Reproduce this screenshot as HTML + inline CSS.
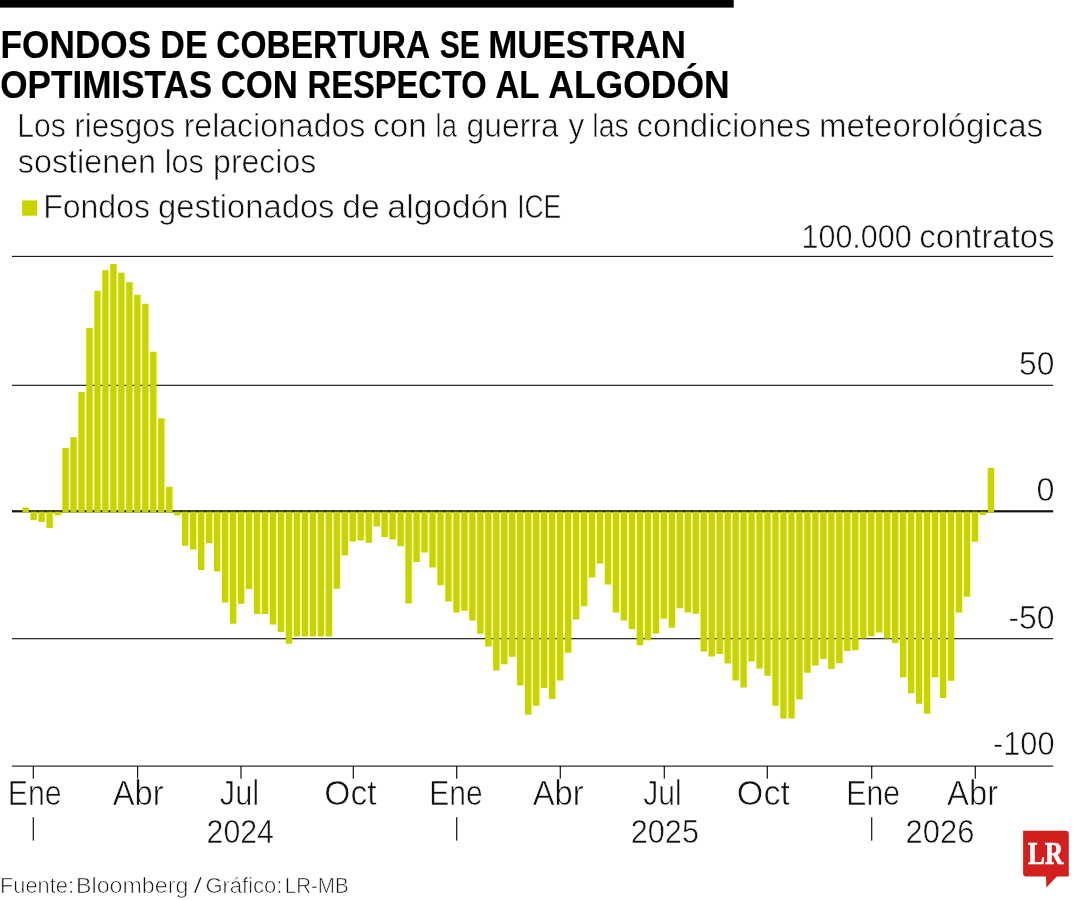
<!DOCTYPE html>
<html lang="es"><head><meta charset="utf-8"><title>Fondos de cobertura se muestran optimistas con respecto al algodón</title>
<style>
html,body{margin:0;padding:0;background:#fff}
svg{display:block}
text{font-family:"Liberation Sans",sans-serif;fill:#111;stroke:#fff;paint-order:fill stroke}
.b{font-weight:bold;fill:#000;stroke:#000;stroke-width:0.2px}
.s{font-family:"Liberation Serif",serif;font-weight:bold;fill:#fff;stroke:#fff;stroke-width:0.7px}
</style></head><body>
<svg width="1080" height="900" viewBox="0 0 1080 900">
<rect width="1080" height="900" fill="#fff"/>
<rect x="0" y="0" width="733.7" height="7.6" fill="#000"/>
<text class="b" y="57.7" font-size="38"><tspan x="0.60" textLength="150.59" lengthAdjust="spacingAndGlyphs">FONDOS</tspan> <tspan x="160.34" textLength="47.26" lengthAdjust="spacingAndGlyphs">DE</tspan> <tspan x="216.25" textLength="212.65" lengthAdjust="spacingAndGlyphs">COBERTURA</tspan> <tspan x="439.66" textLength="40.13" lengthAdjust="spacingAndGlyphs">SE</tspan> <tspan x="488.15" textLength="197.80" lengthAdjust="spacingAndGlyphs">MUESTRAN</tspan></text>
<text class="b" y="97.6" font-size="38"><tspan x="0.23" textLength="212.03" lengthAdjust="spacingAndGlyphs">OPTIMISTAS</tspan> <tspan x="220.69" textLength="77.30" lengthAdjust="spacingAndGlyphs">CON</tspan> <tspan x="307.60" textLength="179.02" lengthAdjust="spacingAndGlyphs">RESPECTO</tspan> <tspan x="495.48" textLength="43.27" lengthAdjust="spacingAndGlyphs">AL</tspan> <tspan x="548.34" textLength="181.30" lengthAdjust="spacingAndGlyphs">ALGODÓN</tspan></text>
<text y="136.7" font-size="34" stroke-width="0.61"><tspan x="17.36" textLength="48.57" lengthAdjust="spacingAndGlyphs">Los</tspan> <tspan x="74.26" textLength="101.05" lengthAdjust="spacingAndGlyphs">riesgos</tspan> <tspan x="183.69" textLength="181.59" lengthAdjust="spacingAndGlyphs">relacionados</tspan> <tspan x="373.01" textLength="53.99" lengthAdjust="spacingAndGlyphs">con</tspan> <tspan x="435.59" textLength="21.29" lengthAdjust="spacingAndGlyphs">la</tspan> <tspan x="466.61" textLength="92.05" lengthAdjust="spacingAndGlyphs">guerra</tspan> <tspan x="568.56" textLength="15.73" lengthAdjust="spacingAndGlyphs">y</tspan> <tspan x="592.34" textLength="36.55" lengthAdjust="spacingAndGlyphs">las</tspan> <tspan x="636.62" textLength="174.31" lengthAdjust="spacingAndGlyphs">condiciones</tspan> <tspan x="819.05" textLength="224.03" lengthAdjust="spacingAndGlyphs">meteorológicas</tspan></text>
<text y="172.6" font-size="34" stroke-width="0.61"><tspan x="17.87" textLength="138.20" lengthAdjust="spacingAndGlyphs">sostienen</tspan> <tspan x="164.78" textLength="39.11" lengthAdjust="spacingAndGlyphs">los</tspan> <tspan x="213.11" textLength="103.09" lengthAdjust="spacingAndGlyphs">precios</tspan></text>
<rect x="22.1" y="200.4" width="15" height="15.3" fill="#c8d400"/>
<text y="218.4" font-size="34" stroke-width="0.61"><tspan x="43.13" textLength="106.93" lengthAdjust="spacingAndGlyphs">Fondos</tspan> <tspan x="158.02" textLength="176.45" lengthAdjust="spacingAndGlyphs">gestionados</tspan> <tspan x="342.34" textLength="37.54" lengthAdjust="spacingAndGlyphs">de</tspan> <tspan x="387.18" textLength="121.41" lengthAdjust="spacingAndGlyphs">algodón</tspan> <tspan x="517.15" textLength="44.14" lengthAdjust="spacingAndGlyphs">ICE</tspan></text>
<text y="247.9" font-size="33.5" stroke-width="0.60"><tspan x="801.50" textLength="110.16" lengthAdjust="spacingAndGlyphs">100.000</tspan> <tspan x="919.21" textLength="135.33" lengthAdjust="spacingAndGlyphs">contratos</tspan></text>
<g fill="#ffffc4">
<rect x="28.55" y="507.50" width="1.93" height="3.80"/><rect x="36.53" y="511.30" width="1.93" height="8.70"/><rect x="44.50" y="511.30" width="1.93" height="10.70"/><rect x="52.48" y="511.30" width="1.93" height="16.70"/><rect x="60.46" y="511.30" width="1.93" height="4.00"/><rect x="68.44" y="448.00" width="1.93" height="63.30"/>
<rect x="76.41" y="437.20" width="1.93" height="74.10"/><rect x="84.39" y="392.00" width="1.93" height="119.30"/><rect x="92.37" y="328.00" width="1.93" height="183.30"/><rect x="100.34" y="290.80" width="1.93" height="220.50"/><rect x="108.32" y="270.20" width="1.93" height="241.10"/><rect x="116.30" y="264.00" width="1.93" height="247.30"/>
<rect x="124.27" y="272.70" width="1.93" height="238.60"/><rect x="132.25" y="282.20" width="1.93" height="229.10"/><rect x="140.23" y="294.80" width="1.93" height="216.50"/><rect x="148.20" y="303.80" width="1.93" height="207.50"/><rect x="156.18" y="351.80" width="1.93" height="159.50"/><rect x="164.16" y="418.30" width="1.93" height="93.00"/>
<rect x="172.14" y="486.70" width="1.93" height="24.60"/><rect x="180.11" y="511.30" width="1.93" height="4.00"/><rect x="188.09" y="511.30" width="1.93" height="34.45"/><rect x="196.07" y="511.30" width="1.93" height="38.20"/><rect x="204.04" y="511.30" width="1.93" height="58.70"/><rect x="212.02" y="511.30" width="1.93" height="31.95"/>
<rect x="220.00" y="511.30" width="1.93" height="60.20"/><rect x="227.97" y="511.30" width="1.93" height="91.20"/><rect x="235.95" y="511.30" width="1.93" height="112.45"/><rect x="243.93" y="511.30" width="1.93" height="92.45"/><rect x="251.91" y="511.30" width="1.93" height="77.70"/><rect x="259.88" y="511.30" width="1.93" height="102.70"/>
<rect x="267.86" y="511.30" width="1.93" height="102.70"/><rect x="275.84" y="511.30" width="1.93" height="113.20"/><rect x="283.81" y="511.30" width="1.93" height="120.70"/><rect x="291.79" y="511.30" width="1.93" height="132.45"/><rect x="299.77" y="511.30" width="1.93" height="125.20"/><rect x="307.75" y="511.30" width="1.93" height="125.20"/>
<rect x="315.72" y="511.30" width="1.93" height="125.20"/><rect x="323.70" y="511.30" width="1.93" height="125.20"/><rect x="331.68" y="511.30" width="1.93" height="125.20"/><rect x="339.65" y="511.30" width="1.93" height="77.45"/><rect x="347.63" y="511.30" width="1.93" height="44.20"/><rect x="355.61" y="511.30" width="1.93" height="30.20"/>
<rect x="363.58" y="511.30" width="1.93" height="29.20"/><rect x="371.56" y="511.30" width="1.93" height="31.45"/><rect x="379.54" y="511.30" width="1.93" height="15.20"/><rect x="387.52" y="511.30" width="1.93" height="25.70"/><rect x="395.49" y="511.30" width="1.93" height="28.20"/><rect x="403.47" y="511.30" width="1.93" height="34.95"/>
<rect x="411.45" y="511.30" width="1.93" height="92.20"/><rect x="419.42" y="511.30" width="1.93" height="50.70"/><rect x="427.40" y="511.30" width="1.93" height="41.20"/><rect x="435.38" y="511.30" width="1.93" height="56.20"/><rect x="443.35" y="511.30" width="1.93" height="73.95"/><rect x="451.33" y="511.30" width="1.93" height="90.20"/>
<rect x="459.31" y="511.30" width="1.93" height="101.20"/><rect x="467.29" y="511.30" width="1.93" height="99.45"/><rect x="475.26" y="511.30" width="1.93" height="109.20"/><rect x="483.24" y="511.30" width="1.93" height="122.45"/><rect x="491.22" y="511.30" width="1.93" height="135.20"/><rect x="499.19" y="511.30" width="1.93" height="159.20"/>
<rect x="507.17" y="511.30" width="1.93" height="152.95"/><rect x="515.15" y="511.30" width="1.93" height="145.45"/><rect x="523.12" y="511.30" width="1.93" height="174.20"/><rect x="531.10" y="511.30" width="1.93" height="203.45"/><rect x="539.08" y="511.30" width="1.93" height="194.45"/><rect x="547.06" y="511.30" width="1.93" height="176.70"/>
<rect x="555.03" y="511.30" width="1.93" height="187.70"/><rect x="563.01" y="511.30" width="1.93" height="169.20"/><rect x="570.99" y="511.30" width="1.93" height="141.45"/><rect x="578.96" y="511.30" width="1.93" height="108.20"/><rect x="586.94" y="511.30" width="1.93" height="94.95"/><rect x="594.92" y="511.30" width="1.93" height="66.20"/>
<rect x="602.89" y="511.30" width="1.93" height="52.20"/><rect x="610.87" y="511.30" width="1.93" height="73.20"/><rect x="618.85" y="511.30" width="1.93" height="101.20"/><rect x="626.83" y="511.30" width="1.93" height="109.20"/><rect x="634.80" y="511.30" width="1.93" height="117.70"/><rect x="642.78" y="511.30" width="1.93" height="133.95"/>
<rect x="650.76" y="511.30" width="1.93" height="128.95"/><rect x="658.73" y="511.30" width="1.93" height="122.20"/><rect x="666.71" y="511.30" width="1.93" height="107.45"/><rect x="674.69" y="511.30" width="1.93" height="116.45"/><rect x="682.66" y="511.30" width="1.93" height="96.95"/><rect x="690.64" y="511.30" width="1.93" height="101.20"/>
<rect x="698.62" y="511.30" width="1.93" height="102.45"/><rect x="706.60" y="511.30" width="1.93" height="140.20"/><rect x="714.57" y="511.30" width="1.93" height="145.20"/><rect x="722.55" y="511.30" width="1.93" height="142.70"/><rect x="730.53" y="511.30" width="1.93" height="152.20"/><rect x="738.50" y="511.30" width="1.93" height="169.20"/>
<rect x="746.48" y="511.30" width="1.93" height="176.20"/><rect x="754.46" y="511.30" width="1.93" height="150.20"/><rect x="762.43" y="511.30" width="1.93" height="157.20"/><rect x="770.41" y="511.30" width="1.93" height="164.45"/><rect x="778.39" y="511.30" width="1.93" height="194.45"/><rect x="786.37" y="511.30" width="1.93" height="207.20"/>
<rect x="794.34" y="511.30" width="1.93" height="207.20"/><rect x="802.32" y="511.30" width="1.93" height="188.20"/><rect x="810.30" y="511.30" width="1.93" height="161.45"/><rect x="818.27" y="511.30" width="1.93" height="154.20"/><rect x="826.25" y="511.30" width="1.93" height="147.70"/><rect x="834.23" y="511.30" width="1.93" height="157.70"/>
<rect x="842.20" y="511.30" width="1.93" height="151.95"/><rect x="850.18" y="511.30" width="1.93" height="139.70"/><rect x="858.16" y="511.30" width="1.93" height="138.95"/><rect x="866.14" y="511.30" width="1.93" height="127.20"/><rect x="874.11" y="511.30" width="1.93" height="124.95"/><rect x="882.09" y="511.30" width="1.93" height="121.20"/>
<rect x="890.07" y="511.30" width="1.93" height="127.20"/><rect x="898.04" y="511.30" width="1.93" height="131.70"/><rect x="906.02" y="511.30" width="1.93" height="165.95"/><rect x="914.00" y="511.30" width="1.93" height="181.95"/><rect x="921.97" y="511.30" width="1.93" height="192.45"/><rect x="929.95" y="511.30" width="1.93" height="202.45"/>
<rect x="937.93" y="511.30" width="1.93" height="165.95"/><rect x="945.91" y="511.30" width="1.93" height="186.70"/><rect x="953.88" y="511.30" width="1.93" height="169.45"/><rect x="961.86" y="511.30" width="1.93" height="101.20"/><rect x="969.84" y="511.30" width="1.93" height="85.40"/><rect x="977.81" y="511.30" width="1.93" height="30.40"/>
<rect x="985.79" y="511.30" width="1.93" height="3.70"/><rect x="993.77" y="467.80" width="1.93" height="43.50"/></g>
<rect x="12" y="255.85" width="1041.2" height="1.1" fill="#111"/>
<rect x="12" y="384.75" width="1041.2" height="1.1" fill="#111"/>
<rect x="12" y="638.15" width="1041.2" height="1.1" fill="#111"/>
<rect x="12" y="765.55" width="1041.2" height="1.1" fill="#111"/>
<rect x="12" y="510.20" width="1041.2" height="2.2" fill="#111"/>
<g fill="#c8d400">
<rect x="22.50" y="507.50" width="6.35" height="4.90"/><rect x="30.48" y="511.60" width="6.35" height="8.40"/><rect x="38.45" y="511.60" width="6.35" height="10.40"/><rect x="46.43" y="511.60" width="6.35" height="16.40"/><rect x="54.41" y="511.60" width="6.35" height="3.70"/><rect x="62.39" y="448.00" width="6.35" height="64.40"/>
<rect x="70.36" y="437.20" width="6.35" height="75.20"/><rect x="78.34" y="392.00" width="6.35" height="120.40"/><rect x="86.32" y="328.00" width="6.35" height="184.40"/><rect x="94.29" y="290.80" width="6.35" height="221.60"/><rect x="102.27" y="270.20" width="6.35" height="242.20"/><rect x="110.25" y="264.00" width="6.35" height="248.40"/>
<rect x="118.22" y="272.70" width="6.35" height="239.70"/><rect x="126.20" y="282.20" width="6.35" height="230.20"/><rect x="134.18" y="294.80" width="6.35" height="217.60"/><rect x="142.16" y="303.80" width="6.35" height="208.60"/><rect x="150.13" y="351.80" width="6.35" height="160.60"/><rect x="158.11" y="418.30" width="6.35" height="94.10"/>
<rect x="166.09" y="486.70" width="6.35" height="25.70"/><rect x="174.06" y="511.60" width="6.35" height="3.70"/><rect x="182.04" y="511.60" width="6.35" height="34.15"/><rect x="190.02" y="511.60" width="6.35" height="37.90"/><rect x="197.99" y="511.60" width="6.35" height="58.40"/><rect x="205.97" y="511.60" width="6.35" height="31.65"/>
<rect x="213.95" y="511.60" width="6.35" height="59.90"/><rect x="221.93" y="511.60" width="6.35" height="90.90"/><rect x="229.90" y="511.60" width="6.35" height="112.15"/><rect x="237.88" y="511.60" width="6.35" height="92.15"/><rect x="245.86" y="511.60" width="6.35" height="77.40"/><rect x="253.83" y="511.60" width="6.35" height="102.40"/>
<rect x="261.81" y="511.60" width="6.35" height="102.40"/><rect x="269.79" y="511.60" width="6.35" height="112.90"/><rect x="277.76" y="511.60" width="6.35" height="120.40"/><rect x="285.74" y="511.60" width="6.35" height="132.15"/><rect x="293.72" y="511.60" width="6.35" height="124.90"/><rect x="301.69" y="511.60" width="6.35" height="124.90"/>
<rect x="309.67" y="511.60" width="6.35" height="124.90"/><rect x="317.65" y="511.60" width="6.35" height="124.90"/><rect x="325.63" y="511.60" width="6.35" height="124.90"/><rect x="333.60" y="511.60" width="6.35" height="77.15"/><rect x="341.58" y="511.60" width="6.35" height="43.90"/><rect x="349.56" y="511.60" width="6.35" height="29.90"/>
<rect x="357.53" y="511.60" width="6.35" height="28.90"/><rect x="365.51" y="511.60" width="6.35" height="31.15"/><rect x="373.49" y="511.60" width="6.35" height="14.90"/><rect x="381.47" y="511.60" width="6.35" height="25.40"/><rect x="389.44" y="511.60" width="6.35" height="27.90"/><rect x="397.42" y="511.60" width="6.35" height="34.65"/>
<rect x="405.40" y="511.60" width="6.35" height="91.90"/><rect x="413.37" y="511.60" width="6.35" height="50.40"/><rect x="421.35" y="511.60" width="6.35" height="40.90"/><rect x="429.33" y="511.60" width="6.35" height="55.90"/><rect x="437.30" y="511.60" width="6.35" height="73.65"/><rect x="445.28" y="511.60" width="6.35" height="89.90"/>
<rect x="453.26" y="511.60" width="6.35" height="100.90"/><rect x="461.24" y="511.60" width="6.35" height="99.15"/><rect x="469.21" y="511.60" width="6.35" height="108.90"/><rect x="477.19" y="511.60" width="6.35" height="122.15"/><rect x="485.17" y="511.60" width="6.35" height="134.90"/><rect x="493.14" y="511.60" width="6.35" height="158.90"/>
<rect x="501.12" y="511.60" width="6.35" height="152.65"/><rect x="509.10" y="511.60" width="6.35" height="145.15"/><rect x="517.07" y="511.60" width="6.35" height="173.90"/><rect x="525.05" y="511.60" width="6.35" height="203.15"/><rect x="533.03" y="511.60" width="6.35" height="194.15"/><rect x="541.00" y="511.60" width="6.35" height="176.40"/>
<rect x="548.98" y="511.60" width="6.35" height="187.40"/><rect x="556.96" y="511.60" width="6.35" height="168.90"/><rect x="564.94" y="511.60" width="6.35" height="141.15"/><rect x="572.91" y="511.60" width="6.35" height="107.90"/><rect x="580.89" y="511.60" width="6.35" height="94.65"/><rect x="588.87" y="511.60" width="6.35" height="65.90"/>
<rect x="596.84" y="511.60" width="6.35" height="51.90"/><rect x="604.82" y="511.60" width="6.35" height="72.90"/><rect x="612.80" y="511.60" width="6.35" height="100.90"/><rect x="620.77" y="511.60" width="6.35" height="108.90"/><rect x="628.75" y="511.60" width="6.35" height="117.40"/><rect x="636.73" y="511.60" width="6.35" height="133.65"/>
<rect x="644.71" y="511.60" width="6.35" height="128.65"/><rect x="652.68" y="511.60" width="6.35" height="121.90"/><rect x="660.66" y="511.60" width="6.35" height="107.15"/><rect x="668.64" y="511.60" width="6.35" height="116.15"/><rect x="676.61" y="511.60" width="6.35" height="96.65"/><rect x="684.59" y="511.60" width="6.35" height="100.90"/>
<rect x="692.57" y="511.60" width="6.35" height="102.15"/><rect x="700.55" y="511.60" width="6.35" height="139.90"/><rect x="708.52" y="511.60" width="6.35" height="144.90"/><rect x="716.50" y="511.60" width="6.35" height="142.40"/><rect x="724.48" y="511.60" width="6.35" height="151.90"/><rect x="732.45" y="511.60" width="6.35" height="168.90"/>
<rect x="740.43" y="511.60" width="6.35" height="175.90"/><rect x="748.41" y="511.60" width="6.35" height="149.90"/><rect x="756.38" y="511.60" width="6.35" height="156.90"/><rect x="764.36" y="511.60" width="6.35" height="164.15"/><rect x="772.34" y="511.60" width="6.35" height="194.15"/><rect x="780.32" y="511.60" width="6.35" height="206.90"/>
<rect x="788.29" y="511.60" width="6.35" height="206.90"/><rect x="796.27" y="511.60" width="6.35" height="187.90"/><rect x="804.25" y="511.60" width="6.35" height="161.15"/><rect x="812.22" y="511.60" width="6.35" height="153.90"/><rect x="820.20" y="511.60" width="6.35" height="147.40"/><rect x="828.18" y="511.60" width="6.35" height="157.40"/>
<rect x="836.15" y="511.60" width="6.35" height="151.65"/><rect x="844.13" y="511.60" width="6.35" height="139.40"/><rect x="852.11" y="511.60" width="6.35" height="138.65"/><rect x="860.09" y="511.60" width="6.35" height="126.90"/><rect x="868.06" y="511.60" width="6.35" height="124.65"/><rect x="876.04" y="511.60" width="6.35" height="120.90"/>
<rect x="884.02" y="511.60" width="6.35" height="126.90"/><rect x="891.99" y="511.60" width="6.35" height="131.40"/><rect x="899.97" y="511.60" width="6.35" height="165.65"/><rect x="907.95" y="511.60" width="6.35" height="181.65"/><rect x="915.92" y="511.60" width="6.35" height="192.15"/><rect x="923.90" y="511.60" width="6.35" height="202.15"/>
<rect x="931.88" y="511.60" width="6.35" height="165.65"/><rect x="939.86" y="511.60" width="6.35" height="186.40"/><rect x="947.83" y="511.60" width="6.35" height="169.15"/><rect x="955.81" y="511.60" width="6.35" height="100.90"/><rect x="963.79" y="511.60" width="6.35" height="85.10"/><rect x="971.76" y="511.60" width="6.35" height="30.10"/>
<rect x="979.74" y="511.60" width="6.35" height="3.40"/><rect x="987.72" y="467.80" width="6.35" height="44.60"/></g>
<text y="374.8" font-size="33.5" stroke-width="0.60"><tspan x="1019.00" textLength="35.34" lengthAdjust="spacingAndGlyphs">50</tspan></text>
<text y="501.4" font-size="33.5" stroke-width="0.60"><tspan x="1036.49" textLength="18.01" lengthAdjust="spacingAndGlyphs">0</tspan></text>
<text y="628.5" font-size="33.5" stroke-width="0.60"><tspan x="1008.38" textLength="46.17" lengthAdjust="spacingAndGlyphs">-50</tspan></text>
<text y="754.7" font-size="33.5" stroke-width="0.60"><tspan x="993.05" textLength="61.48" lengthAdjust="spacingAndGlyphs">-100</tspan></text>
<rect x="32.70" y="766" width="1.2" height="12.7" fill="#111"/>
<rect x="137.00" y="766" width="1.2" height="12.7" fill="#111"/>
<rect x="240.40" y="766" width="1.2" height="12.7" fill="#111"/>
<rect x="352.70" y="766" width="1.2" height="12.7" fill="#111"/>
<rect x="456.10" y="766" width="1.2" height="12.7" fill="#111"/>
<rect x="559.70" y="766" width="1.2" height="12.7" fill="#111"/>
<rect x="663.70" y="766" width="1.2" height="12.7" fill="#111"/>
<rect x="766.70" y="766" width="1.2" height="12.7" fill="#111"/>
<rect x="871.10" y="766" width="1.2" height="12.7" fill="#111"/>
<rect x="974.70" y="766" width="1.2" height="12.7" fill="#111"/>
<rect x="32.70" y="817.2" width="1.2" height="23.4" fill="#111"/>
<rect x="456.10" y="817.2" width="1.2" height="23.4" fill="#111"/>
<rect x="871.10" y="817.2" width="1.2" height="23.4" fill="#111"/>
<text y="804.6" font-size="34.5" stroke-width="0.62"><tspan x="7.72" textLength="53.82" lengthAdjust="spacingAndGlyphs">Ene</tspan></text>
<text y="804.6" font-size="34.5" stroke-width="0.62"><tspan x="112.63" textLength="50.95" lengthAdjust="spacingAndGlyphs">Abr</tspan></text>
<text y="804.6" font-size="34.5" stroke-width="0.62"><tspan x="219.77" textLength="39.33" lengthAdjust="spacingAndGlyphs">Jul</tspan></text>
<text y="804.6" font-size="34.5" stroke-width="0.62"><tspan x="324.30" textLength="52.28" lengthAdjust="spacingAndGlyphs">Oct</tspan></text>
<text y="804.6" font-size="34.5" stroke-width="0.62"><tspan x="429.37" textLength="53.27" lengthAdjust="spacingAndGlyphs">Ene</tspan></text>
<text y="804.6" font-size="34.5" stroke-width="0.62"><tspan x="532.63" textLength="51.01" lengthAdjust="spacingAndGlyphs">Abr</tspan></text>
<text y="804.6" font-size="34.5" stroke-width="0.62"><tspan x="643.19" textLength="38.39" lengthAdjust="spacingAndGlyphs">Jul</tspan></text>
<text y="804.6" font-size="34.5" stroke-width="0.62"><tspan x="736.85" textLength="53.13" lengthAdjust="spacingAndGlyphs">Oct</tspan></text>
<text y="804.6" font-size="34.5" stroke-width="0.62"><tspan x="846.37" textLength="53.71" lengthAdjust="spacingAndGlyphs">Ene</tspan></text>
<text y="804.6" font-size="34.5" stroke-width="0.62"><tspan x="947.08" textLength="51.09" lengthAdjust="spacingAndGlyphs">Abr</tspan></text>
<text y="843.3" font-size="32.5" stroke-width="0.58"><tspan x="206.57" textLength="67.34" lengthAdjust="spacingAndGlyphs">2024</tspan></text>
<text y="843.3" font-size="32.5" stroke-width="0.58"><tspan x="630.75" textLength="68.24" lengthAdjust="spacingAndGlyphs">2025</tspan></text>
<text y="843.3" font-size="32.5" stroke-width="0.58"><tspan x="905.56" textLength="68.88" lengthAdjust="spacingAndGlyphs">2026</tspan></text>
<text y="892.7" font-size="22.8" fill="#2e2e2e" stroke-width="0.68"><tspan x="-0.03" textLength="74.03" lengthAdjust="spacingAndGlyphs">Fuente:</tspan> <tspan x="76.07" textLength="112.25" lengthAdjust="spacingAndGlyphs">Bloomberg</tspan> <tspan x="193.42" textLength="8.71" lengthAdjust="spacingAndGlyphs">/</tspan> <tspan x="205.38" textLength="77.00" lengthAdjust="spacingAndGlyphs">Gráfico:</tspan> <tspan x="284.75" textLength="63.93" lengthAdjust="spacingAndGlyphs">LR-MB</tspan></text>
<path d="M1023.1 830.8 H1065.8 Q1068.8 830.8 1068.8 833.8 V876.4 H1056.8 L1046.4 887.5 L1046 876.4 H1026.1 Q1023.1 876.4 1023.1 873.4 Z" fill="#d2201f"/>
<text class="s" y="864.4" font-size="32.3"><tspan x="1028.10" textLength="35.01" lengthAdjust="spacingAndGlyphs">LR</tspan></text>
</svg>
</body></html>
